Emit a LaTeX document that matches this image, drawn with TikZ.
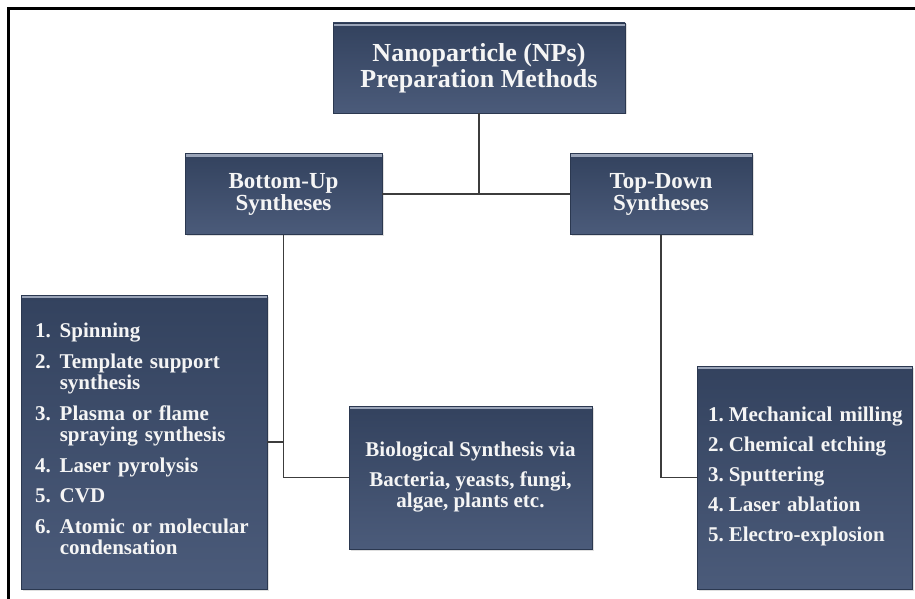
\documentclass[tikz,border=0pt]{standalone}
\usepackage{fontspec}
\setmainfont{Liberation Serif}
\usepackage{tikz}
\usetikzlibrary{positioning,shadows,calc}
\definecolor{boxtop}{HTML}{33425E}
\definecolor{boxbot}{HTML}{4B5B7A}
\definecolor{boxrim}{HTML}{9AA4B8}
\definecolor{linkgray}{HTML}{3C3C3C}
\tikzset{%
	panel/.style   = {rectangle, top color=boxtop, bottom color=boxbot, draw=boxtop!85!black, line width=0.6pt, text=white!96!black,
	                  drop shadow={shadow xshift=1.5pt, shadow yshift=-1.5pt, opacity=0.25},
	                  path picture={\fill[boxrim] ([yshift=-3pt]path picture bounding box.north west) rectangle (path picture bounding box.north east);}},
	headbox/.style = {panel, font=\bfseries\fontsize{26}{26}\selectfont, align=center, minimum width=292, minimum height=90},
	branch/.style  = {panel, font=\bfseries\fontsize{23}{22}\selectfont, align=center, minimum height=81},
	listbox/.style = {panel, font=\bfseries\fontsize{21}{21.5}\selectfont, align=left},
	link/.style    = {draw=linkgray, line width=1.4pt},
}

\begin{document}
\begin{tikzpicture}[x=1pt,y=-1pt]
		\useasboundingbox (0,0) rectangle (915,599);
		\draw[line width=3pt] (8.5,599) |- (915,9);
		
		% top of the tree
		\node[headbox] (methods) at (479,68) {Nanoparticle (NPs)\\Preparation Methods};
		\node[branch, minimum width=197] (bottomup) at (283.5,194) {Bottom-Up\\Syntheses};
		\node[branch, minimum width=182] (topdown) at (661,194) {Top-Down\\Syntheses};
		
		% bottom-up leaves
		\node[listbox, text width=218, inner xsep=14, minimum height=294] (bulist) at (144,442) {%
			\begin{tabular}{@{}l@{\hspace{9pt}}l@{}}
				1. & Spinning\\[9pt]
				2. & Template support\\
				   & synthesis\\[9pt]
				3. & Plasma or flame\\
				   & spraying synthesis\\[9pt]
				4. & Laser pyrolysis\\[9pt]
				5. & CVD\\[9pt]
				6. & Atomic or molecular\\
				   & condensation
			\end{tabular}};
		\node[listbox, align=center, minimum width=243, minimum height=143, font=\bfseries\fontsize{21}{21}\selectfont] (bio) at (470.5,477.5)
			{Biological Synthesis via\\[9pt]Bacteria, yeasts, fungi,\\algae, plants etc.};
		
		% top-down leaves
		\node[listbox, text width=193, inner xsep=11, minimum height=223] (tdlist) at (804.5,477.5) {%
			\begin{tabular}{@{}l@{\hspace{5pt}}l@{}}
				1. & Mechanical milling\\[8.5pt]
				2. & Chemical etching\\[8.5pt]
				3. & Sputtering\\[8.5pt]
				4. & Laser ablation\\[8.5pt]
				5. & Electro-explosion
			\end{tabular}};
		
		% connectors
		\draw[link] (methods.south) -- (methods.south |- bottomup.east);
		\draw[link] (bottomup.east) -- (topdown.west);
		\draw[link] (bottomup.south) |- (bio.west);
		\draw[link] (bulist.east) -- (bulist.east -| bottomup.south);
		\draw[link] (topdown.south) |- (tdlist.west);
		
\end{tikzpicture}
\end{document}
